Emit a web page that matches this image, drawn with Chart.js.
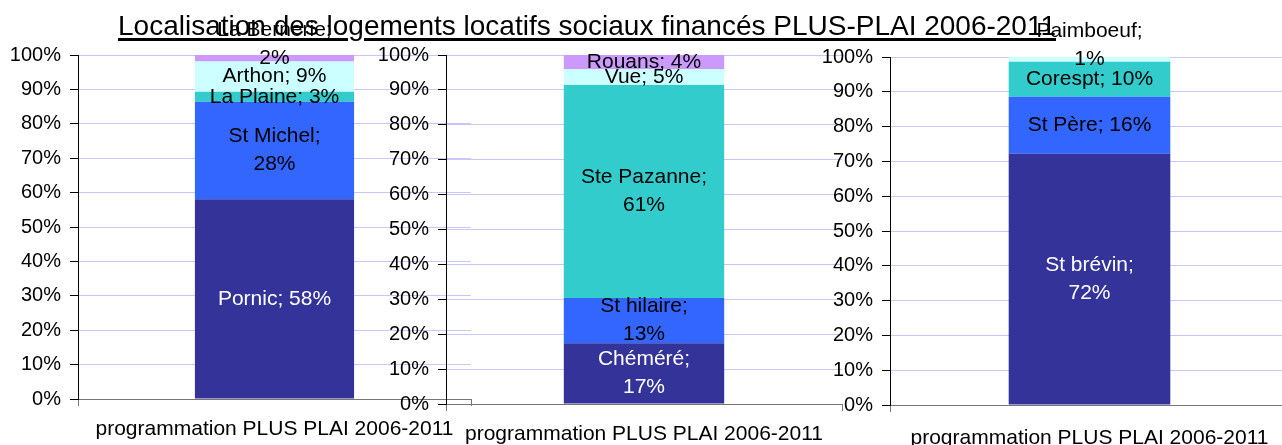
<!DOCTYPE html>
<html><head><meta charset="utf-8">
<script src="https://cdn.jsdelivr.net/npm/chart.js@4.4.1/dist/chart.umd.min.js"></script>
<style>
html,body{margin:0;padding:0;background:#fff;overflow:hidden;width:1282px;height:445px;position:relative;}
canvas{position:absolute;top:0;}
#title{position:absolute;left:0;width:1174px;text-align:center;top:10px;font-family:"Liberation Sans",Arial,sans-serif;font-size:28px;line-height:32px;text-decoration:underline;text-decoration-thickness:3px;text-underline-offset:3px;color:#000;z-index:5;white-space:nowrap;}
</style></head><body>
<div id="title">Localisation des logements locatifs sociaux financés PLUS-PLAI 2006-2011</div>
<canvas id="c1" width="473" height="445" style="left:0px"></canvas>
<canvas id="c2" width="474" height="445" style="left:370px"></canvas>
<canvas id="c3" width="475" height="445" style="left:814px"></canvas>
<script>
const categories = ['programmation PLUS PLAI 2006-2011'];
const yTicks = [0, 10, 20, 30, 40, 50, 60, 70, 80, 90, 100];

const communes1 = ['Pornic', 'St Michel', 'La Plaine', 'Arthon', 'La Bernerie'];
const values1 = [58.1, 28.3, 2.9, 8.8, 1.9];

const communes2 = ['Chéméré', 'St hilaire', 'Ste Pazanne', 'Vue', 'Rouans'];
const values2 = [17.4, 13.0, 61.0, 4.6, 4.0];

const communes3 = ['St brévin', 'St Père', 'Corespt', 'Paimboeuf'];
const values3 = [72.2, 16.4, 10.0, 1.4];

const segmentColors = ['#333399', '#3366FF', '#33CCCC', '#CCFFFF', '#CC99FF'];
const FONT = '"Liberation Sans", Arial, sans-serif';
Chart.defaults.font.family = FONT;

const labelPlugin = {
  id: 'segLabels',
  afterDatasetsDraw(chart) {
    const ctx = chart.ctx;
    ctx.save();
    ctx.font = '21px ' + FONT;
    ctx.textAlign = 'center';
    ctx.textBaseline = 'middle';
    const n = chart.data.datasets.length;
    chart.data.datasets.forEach((ds, i) => {
      const meta = chart.getDatasetMeta(i);
      meta.data.forEach((bar, j) => {
        const v = ds.data[j];
        const name = ds.label;
        const full = name + '; ' + Math.round(v) + '%';
        const lines = ctx.measureText(full).width > bar.width * 0.84 ? [name + ';', Math.round(v) + '%'] : [full];
        const top = Math.min(bar.y, bar.base), bottom = Math.max(bar.y, bar.base);
        const cy = (top + bottom) / 2;
        const lh = 28;
        let y0;
        if (lines.length > 1 && i === n - 1 && (bottom - top) < lh) y0 = cy - (lines.length - 1) * lh;
        else y0 = cy - (lines.length - 1) * lh / 2;
        ctx.fillStyle = i === 0 ? '#ffffff' : '#000000';
        lines.forEach((t, k) => ctx.fillText(t, bar.x, y0 + k * lh));
      });
    });
    ctx.restore();
  }
};

function makeChart(id, names, values, yWidth, xHeight, padTop, padRight, xLabelPad) {
  return new Chart(document.getElementById(id), {
    type: 'bar',
    data: {
      labels: categories,
      datasets: names.map((nm, i) => ({
        label: nm, data: [values[i]], backgroundColor: segmentColors[i],
        borderWidth: 0, barPercentage: 0.405, categoryPercentage: 1
      }))
    },
    options: {
      responsive: false, animation: false,
      layout: { padding: { top: padTop, bottom: 0, right: padRight, left: 0 } },
      plugins: { legend: { display: false }, tooltip: { enabled: false }, title: { display: false } },
      scales: {
        x: {
          stacked: true,
          grid: { display: true, drawOnChartArea: false, drawTicks: true, tickLength: 7, color: '#777777', offset: true },
          border: { display: true, color: '#777777', width: 1 },
          ticks: { font: { size: 21 }, color: '#000', padding: xLabelPad, maxRotation: 0 },
          afterFit(s) { s.height = xHeight; }
        },
        y: {
          stacked: true, min: 0, max: 100,
          afterBuildTicks(s) { s.ticks = yTicks.map(v => ({ value: v })); },
          ticks: { callback: v => v + '%', font: { size: 20 }, color: '#000', padding: 9 },
          grid: { color: '#c8c8f6', tickColor: '#000', tickLength: 8, lineWidth: 1 },
          border: { color: '#000' },
          afterFit(s) { s.width = yWidth; }
        }
      }
    },
    plugins: [labelPlugin]
  });
}

makeChart('c1', communes1, values1, 78, 46, 55, 2, 11);
makeChart('c2', communes2, values2, 76, 41, 55, 2, 11);
makeChart('c3', communes3, values3, 76, 40, 57, 0, 14);
</script>
</body></html>
